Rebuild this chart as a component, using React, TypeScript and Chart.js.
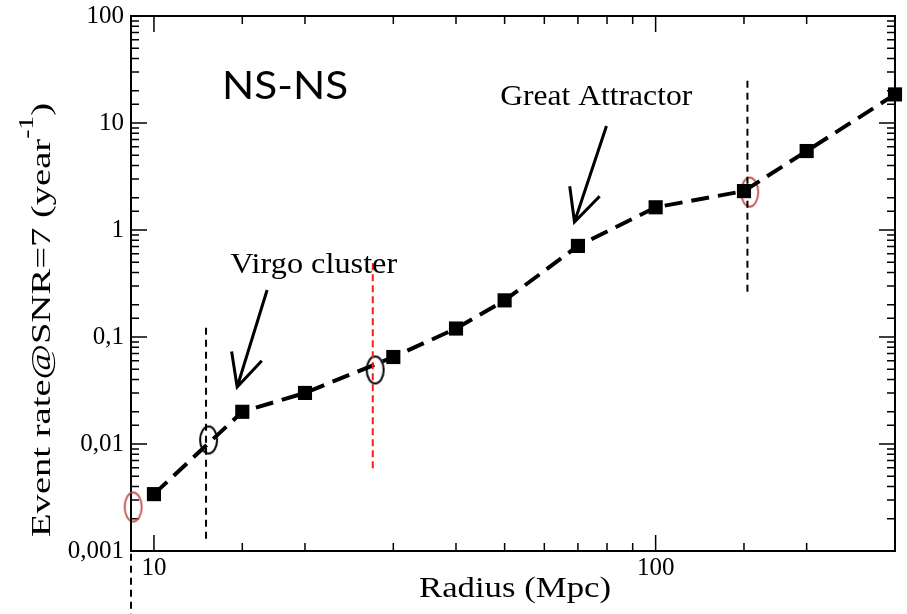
import React, { useEffect, useRef } from 'react';
import { Chart, registerables } from 'chart.js';

Chart.register(...registerables);

// ---- data ----
const radiusMpc = [10, 15, 20, 30, 40, 50, 70, 100, 150, 200, 300];
const eventRate = [0.0034, 0.02, 0.03, 0.065, 0.12, 0.22, 0.71, 1.63, 2.31, 5.47, 18.5];

// open ellipse markers
const blackMarkX = [12.85, 27.6];
const blackMarkY = [0.0109, 0.0492];
const redMarkX = [9.09, 154];
const redMarkY = [0.00258, 2.26];

// vertical dashed guides
const blackGuideX = [9, 12.7, 152.4];
const blackGuideTop = [0.027, 0.122, 24.8];
const blackGuideBottom = [0.00025, 0.00127, 0.258];
const redGuideX = [27.3];
const redGuideTop = [0.49];
const redGuideBottom = [0.0057];

// axis ranges
const xRange = [9, 300];
const yRange = [0.001, 100];

// annotations (data coordinates)
const virgoArrow = [16.81, 0.275, 14.65, 0.0341];
const attractorArrow = [79.8, 9.38, 68.9, 1.188];
const virgoLabel = ['Virgo cluster', 14.19, 0.399];
const attractorLabel = ['Great Attractor', 49.0, 14.7];
const titleLabel = ['NS-NS', 13.67, 16.8];

const xTitle = 'Radius (Mpc)';
const yTitleMain = 'Event rate@SNR=7 (year';
const yTitleSup = '-1';
const yTitleEnd = ')';

const isDecade = (v: number) => Math.abs(Math.log10(v) - Math.round(Math.log10(v))) < 1e-6;
const fmt = (v: number) => String(v).replace('.', ',');

function ellipseImage(color: string, w: number, h: number, lw: number) {
  const c = document.createElement('canvas');
  c.width = w + 4;
  c.height = h + 4;
  const g = c.getContext('2d')!;
  g.strokeStyle = color;
  g.lineWidth = lw;
  g.beginPath();
  g.ellipse(c.width / 2, c.height / 2, w / 2, h / 2, 0, 0, Math.PI * 2);
  g.stroke();
  return c;
}

function stretchText(ctx: CanvasRenderingContext2D, text: string, x: number, y: number, font: string, targetW: number, align: CanvasTextAlign) {
  ctx.save();
  ctx.font = font;
  const w = ctx.measureText(text).width;
  const sx = targetW / w;
  ctx.translate(x, y);
  ctx.scale(sx, 1);
  ctx.textAlign = align;
  ctx.textBaseline = 'alphabetic';
  ctx.fillStyle = '#000';
  ctx.fillText(text, 0, 0);
  ctx.restore();
}

function drawArrow(ctx: CanvasRenderingContext2D, x1: number, y1: number, x2: number, y2: number) {
  const ang = Math.atan2(y1 - y2, x1 - x2);
  const L = 36;
  const spread = (26 * Math.PI) / 180;
  ctx.beginPath();
  ctx.moveTo(x1, y1);
  ctx.lineTo(x2, y2);
  ctx.moveTo(x2 + Math.cos(ang - spread) * L, y2 + Math.sin(ang - spread) * L);
  ctx.lineTo(x2, y2);
  ctx.lineTo(x2 + Math.cos(ang + spread) * L, y2 + Math.sin(ang + spread) * L);
  ctx.stroke();
}

const decorPlugin = {
  id: 'decor',
  beforeDatasetsDraw(chart: any) {
    const { ctx, chartArea: a, scales } = chart;
    const xs = scales.x;
    const ys = scales.y;
    ctx.save();
    ctx.strokeStyle = '#000';
    ctx.lineWidth = 1.5;
    ctx.beginPath();
    xs.ticks.forEach((t: any) => {
      const p = xs.getPixelForValue(t.value);
      const L = isDecade(t.value) ? 16 : 8;
      ctx.moveTo(p, a.bottom);
      ctx.lineTo(p, a.bottom - L);
      ctx.moveTo(p, a.top);
      ctx.lineTo(p, a.top + L);
    });
    ys.ticks.forEach((t: any) => {
      const p = ys.getPixelForValue(t.value);
      const L = isDecade(t.value) ? 16 : 8;
      ctx.moveTo(a.left, p);
      ctx.lineTo(a.left + L, p);
      ctx.moveTo(a.right, p);
      ctx.lineTo(a.right - L, p);
    });
    ctx.stroke();
    ctx.lineWidth = 2;
    ctx.strokeRect(a.left, a.top, a.right - a.left, a.bottom - a.top);
    ctx.restore();
  },
  afterDatasetsDraw(chart: any) {
    const { ctx, chartArea: a, scales } = chart;
    const xs = scales.x;
    const ys = scales.y;
    const px = (v: number) => xs.getPixelForValue(v);
    const py = (v: number) => ys.getPixelForValue(v);

    ctx.save();
    ctx.strokeStyle = '#000';
    ctx.lineWidth = 3;
    ctx.setLineDash([]);
    drawArrow(ctx, px(virgoArrow[0]), py(virgoArrow[1]), px(virgoArrow[2]), py(virgoArrow[3]));
    drawArrow(ctx, px(attractorArrow[0]), py(attractorArrow[1]), px(attractorArrow[2]), py(attractorArrow[3]));
    ctx.restore();

    stretchText(ctx, virgoLabel[0] as string, px(virgoLabel[1] as number), py(virgoLabel[2] as number), '30px "Liberation Serif"', 167, 'left');
    stretchText(ctx, attractorLabel[0] as string, px(attractorLabel[1] as number), py(attractorLabel[2] as number), '30px "Liberation Serif"', 192, 'left');
    stretchText(ctx, titleLabel[0] as string, px(titleLabel[1] as number), py(titleLabel[2] as number), '38px Lato', 126, 'left');

    // x title
    stretchText(ctx, xTitle, (a.left + a.right) / 2 + 2, 597, '29px "Liberation Serif"', 192, 'center');

    // y title with superscript
    ctx.save();
    ctx.translate(50, a.bottom - 14);
    ctx.rotate(-Math.PI / 2);
    ctx.font = '28px "Liberation Serif"';
    const w1 = ctx.measureText(yTitleMain).width;
    const w3 = ctx.measureText(yTitleEnd).width;
    ctx.font = '20px "Liberation Serif"';
    const w2 = ctx.measureText(yTitleSup).width;
    const total = w1 + w2 + w3;
    ctx.scale(434 / total, 1);
    ctx.fillStyle = '#000';
    ctx.textBaseline = 'alphabetic';
    ctx.textAlign = 'left';
    ctx.font = '28px "Liberation Serif"';
    ctx.fillText(yTitleMain, 0, 0);
    ctx.font = '20px "Liberation Serif"';
    ctx.fillText(yTitleSup, w1, -17);
    ctx.font = '28px "Liberation Serif"';
    ctx.fillText(yTitleEnd, w1 + w2, 0);
    ctx.restore();
  },
};

export default function App() {
  const ref = useRef<HTMLCanvasElement | null>(null);

  useEffect(() => {
    if (!ref.current) return;
    const blackEllipse = ellipseImage('#000', 17, 27, 2);
    const redEllipse = ellipseImage('#c0504d', 17, 29, 1.8);

    const guideSets: any[] = [];
    blackGuideX.forEach((x, i) => {
      guideSets.push({
        data: [{ x, y: blackGuideTop[i] }, { x, y: blackGuideBottom[i] }],
        borderColor: '#000',
        borderWidth: 2,
        borderDash: [7, 5],
        pointRadius: 0,
        clip: false,
      });
    });
    redGuideX.forEach((x, i) => {
      guideSets.push({
        data: [{ x, y: redGuideTop[i] }, { x, y: redGuideBottom[i] }],
        borderColor: '#ff1a1a',
        borderWidth: 2,
        borderDash: [7, 4],
        pointRadius: 0,
        clip: false,
      });
    });

    const chart = new Chart(ref.current, {
      type: 'line',
      data: {
        datasets: [
          ...guideSets,
          {
            data: radiusMpc.map((x, i) => ({ x, y: eventRate[i] })),
            borderColor: '#000',
            backgroundColor: '#000',
            borderWidth: 4,
            borderDash: [18, 9],
            pointStyle: 'rect',
            pointRadius: 10,
            pointBorderWidth: 0,
            pointBackgroundColor: '#000',
            clip: false,
          },
          {
            data: blackMarkX.map((x, i) => ({ x, y: blackMarkY[i] })),
            showLine: false,
            pointStyle: blackEllipse,
            pointRadius: 8,
            clip: false,
          },
          {
            data: redMarkX.map((x, i) => ({ x, y: redMarkY[i] })),
            showLine: false,
            pointStyle: redEllipse,
            pointRadius: 8,
            clip: false,
          },
        ],
      },
      options: {
        responsive: false,
        animation: false,
        events: [],
        layout: { padding: { top: 16, right: 12, left: 0, bottom: 0 } },
        plugins: { legend: { display: false }, tooltip: { enabled: false } },
        scales: {
          x: {
            type: 'logarithmic',
            min: xRange[0],
            max: xRange[1],
            grid: { display: false, drawTicks: false },
            border: { display: false },
            ticks: {
              autoSkip: false,
              maxRotation: 0,
              padding: 2,
              color: '#000',
              font: { family: 'Liberation Serif', size: 25 },
              callback: (v: any) => (isDecade(Number(v)) ? fmt(Number(v)) : ''),
            },
            afterFit: (s: any) => {
              s.height = 63;
              s.paddingLeft = 0;
              s.paddingRight = 0;
            },
          },
          y: {
            type: 'logarithmic',
            min: yRange[0],
            max: yRange[1],
            grid: { display: false, drawTicks: false },
            border: { display: false },
            ticks: {
              autoSkip: false,
              padding: 7,
              color: '#000',
              font: { family: 'Liberation Serif', size: 25 },
              callback: (v: any) => (isDecade(Number(v)) ? fmt(Number(v)) : ''),
            },
            afterFit: (s: any) => {
              s.width = 131;
              s.paddingTop = 0;
              s.paddingBottom = 0;
            },
          },
        },
      },
      plugins: [decorPlugin],
    } as any);
    return () => chart.destroy();
  }, []);

  return (
    <canvas
      ref={ref}
      width={907}
      height={614}
      style={{ position: 'absolute', left: 0, top: 0, display: 'block' }}
    />
  );
}
